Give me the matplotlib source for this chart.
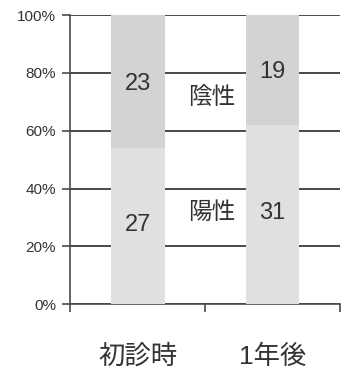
import matplotlib.pyplot as plt
from matplotlib.ticker import FixedLocator, PercentFormatter

plt.rcParams['font.family'] = ['Liberation Sans', 'Noto Sans CJK JP', 'DejaVu Sans']

categories = ["初診時", "1年後"]
positive = [27, 31]
negative = [23, 19]
series_names = ["陽性", "陰性"]


def main():
    totals = [p + n for p, n in zip(positive, negative)]
    pos_pct = [p / t * 100 for p, t in zip(positive, totals)]
    neg_pct = [n / t * 100 for n, t in zip(negative, totals)]
    x = list(range(len(categories)))

    fig = plt.figure(figsize=(3.42, 3.70), dpi=100)
    ax = fig.add_axes([0.205, 0.178, 0.789, 0.781])

    ax.bar(x, pos_pct, width=0.4, color="#e0e0e0", zorder=3)
    ax.bar(x, neg_pct, width=0.4, bottom=pos_pct, color="#d3d3d3", zorder=3)

    # segment values
    for xi, p, n, pp, np_ in zip(x, positive, negative, pos_pct, neg_pct):
        ax.text(xi, pp * 0.51, str(p), ha="center", va="center",
                fontsize=17, color="#333333", zorder=4)
        ax.text(xi, pp + np_ * 0.48, str(n), ha="center", va="center",
                fontsize=17, color="#333333", zorder=4)
    # series names between the bars
    ax.text(0.55, 31.5, series_names[0], ha="center", va="center",
            fontsize=17, color="#333333", zorder=4)
    ax.text(0.55, 71, series_names[1], ha="center", va="center",
            fontsize=17, color="#333333", zorder=4)

    ax.set_xlim(-0.5, 1.5)
    ax.set_ylim(0, 100)
    ax.set_yticks(range(0, 101, 20))
    ax.yaxis.set_major_formatter(PercentFormatter(decimals=0))
    ax.grid(axis="y", color="#4a4a4a", linewidth=1.4, zorder=1)

    ax.set_xticks(x)
    ax.set_xticklabels(categories, fontsize=19, color="#333333")
    ax.xaxis.set_minor_locator(FixedLocator([-0.5, 0.5, 1.5]))
    ax.tick_params(axis="x", which="major", length=0, pad=29)
    ax.tick_params(axis="x", which="minor", length=6, width=1.2, color="#4a4a4a")
    ax.tick_params(axis="y", length=6, width=1.2, color="#4a4a4a",
                   labelsize=11, labelcolor="#333333", pad=4)

    for side in ["top", "right"]:
        ax.spines[side].set_visible(False)
    for side in ["left", "bottom"]:
        ax.spines[side].set_color("#4a4a4a")
        ax.spines[side].set_linewidth(1.2)

    fig.savefig("out.png", dpi=100, facecolor="white")


if __name__ == "__main__":
    main()
